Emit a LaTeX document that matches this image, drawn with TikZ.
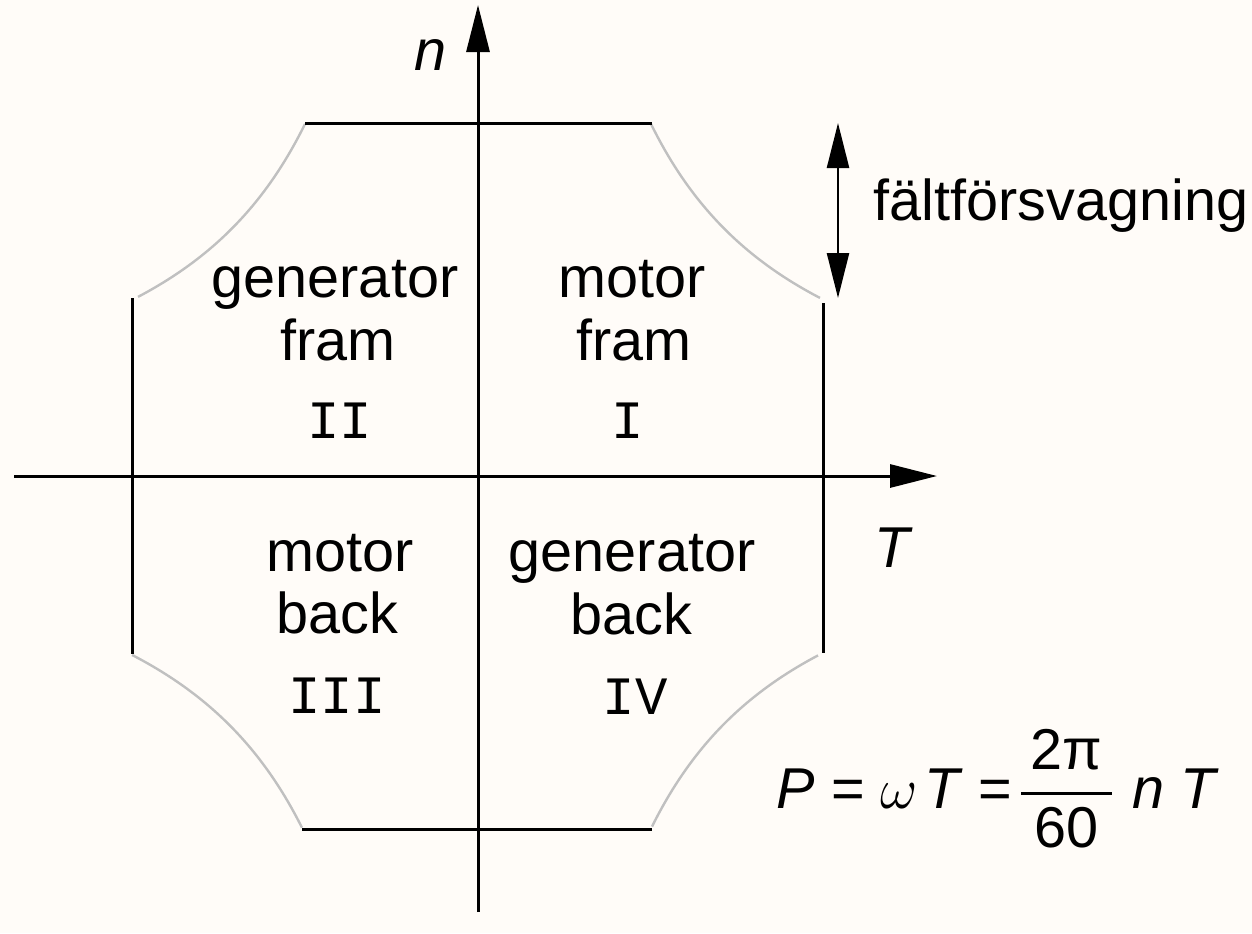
\documentclass[tikz,border=0pt]{standalone}
\usepackage{fontspec}
\usepackage{amsmath}
\setsansfont{Liberation Sans}
\setmonofont{Liberation Mono}
\usetikzlibrary{arrows.meta}
\definecolor{bgc}{RGB}{255,252,248}
\definecolor{arcgray}{RGB}{192,192,192}
\tikzset{
  axis/.style={line width=0.75pt, -{Triangle[length=11.75pt,width=5.75pt]}},
  dblarrow/.style={line width=0.6pt, {Triangle[length=11.25pt,width=5.5pt]}-{Triangle[length=11.25pt,width=5.5pt]}},
  bound/.style={line width=0.75pt},
  powcurve/.style={line width=0.6pt, draw=arcgray},
  lbl/.style={font=\fontsize{14.4}{17}\selectfont\sffamily, anchor=base, inner sep=0pt},
  ital/.style={font=\fontsize{14.4}{17}\selectfont\sffamily\itshape, anchor=base, inner sep=0pt},
  roman/.style={font=\fontsize{13.5}{16}\selectfont\ttfamily, anchor=base, inner sep=0pt}
}
\begin{document}
\begin{tikzpicture}[x=0.25pt,y=-0.25pt]
\fill[bgc] (0,0) rectangle (1252,933);
\useasboundingbox (0,0) rectangle (1252,933);
% boundary coordinates
\coordinate (tl) at (305,123); \coordinate (tr) at (652,123);
\coordinate (bl) at (302,829); \coordinate (br) at (652,829);
\coordinate (lt) at (132,298); \coordinate (lb) at (132,654);
\coordinate (rt) at (823,303); \coordinate (rb) at (823,653);
% constant power curves
\draw[powcurve] plot[domain=1.73:3.40, samples=50] ({478-100*\x},{476-609/\x});
\draw[powcurve] plot[domain=1.73:3.42, samples=50] ({478+100*\x},{476-609/\x});
\draw[powcurve] plot[domain=1.76:3.46, samples=50] ({478-100*\x},{476+619/\x});
\draw[powcurve] plot[domain=1.74:3.40, samples=50] ({478+100*\x},{476+610/\x});
% boundary lines
\draw[bound] (tl) -- (tr);
\draw[bound] (bl) -- (br);
\draw[bound] (lt) -- (lb);
\draw[bound] (rt) -- (rb);
% axes
\coordinate (xl) at (14,476); \coordinate (xr) at (937,476);
\coordinate (yb) at (478,912); \coordinate (yt) at (478,5);
\draw[axis] (xl) -- (xr);
\draw[axis] (yb) -- (yt);
\node[ital] (nlab) at (431,70) {n};
\node[ital] (tlab) at (892,567) {T};
% field weakening
\coordinate (fwt) at (838,123); \coordinate (fwb) at (838,298);
\draw[dblarrow] (fwt) -- (fwb);
\node[lbl] (fw) at (1061,220) {fältförsvagning};
% quadrant labels
\node[lbl] (q2a) at (335,297) {generator};
\node[lbl] (q2b) at (338,360) {fram};
\node[roman] (q2c) at (340,438) {II};
\node[lbl] (q1a) at (632,297) {motor};
\node[lbl] (q1b) at (634,360) {fram};
\node[roman] (q1c) at (628,438) {I};
\node[lbl] (q3a) at (340,571) {motor};
\node[lbl] (q3b) at (337,633) {back};
\node[roman] (q3c) at (337,713) {III};
\node[lbl] (q4a) at (632,571) {generator};
\node[lbl] (q4b) at (631,634) {back};
\node[roman] (q4c) at (635,714) {IV};
% formula
\node[lbl, anchor=base west] (pf) at (776,808) {\textit{P} = $\omega$\kern1.5pt\textit{T} =\kern1pt$\genfrac{}{}{0.75pt}{0}{\mbox{\kern2.4pt 2π\kern2.4pt}}{\mbox{60}}$ \textit{n} \textit{T}};
\end{tikzpicture}
\end{document}
